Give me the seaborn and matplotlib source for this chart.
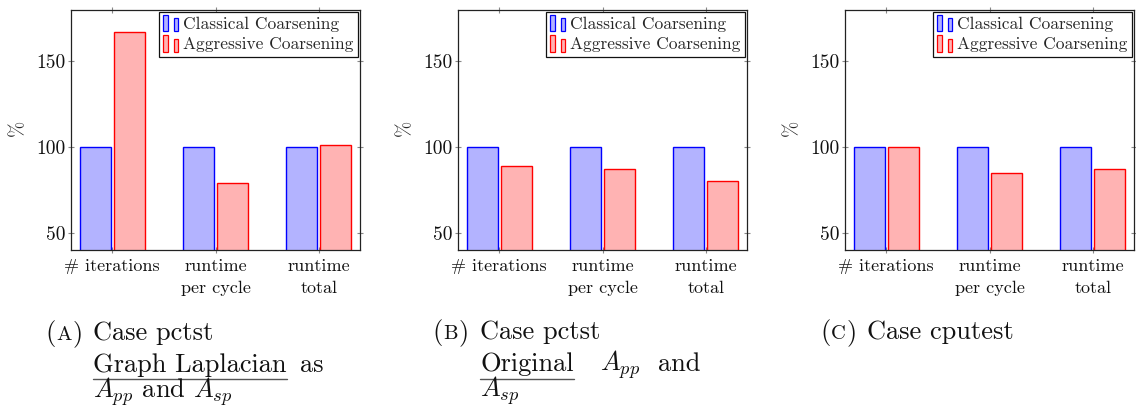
import matplotlib
matplotlib.use("Agg")
import matplotlib.pyplot as plt
from matplotlib.patches import Rectangle
from matplotlib.legend_handler import HandlerBase
from matplotlib.lines import Line2D
import pandas as pd
import seaborn as sns

# ---- data ---------------------------------------------------------------
metrics = ["# iterations", "runtime\nper cycle", "runtime\ntotal"]
methods = ["Classical Coarsening", "Aggressive Coarsening"]

classical_a = [100, 100, 100]
aggressive_a = [167, 79, 101]

classical_b = [100, 100, 100]
aggressive_b = [89, 87, 80]

classical_c = [100, 100, 100]
aggressive_c = [100, 85, 87]

y_ticks = [50, 100, 150]

# ---- style --------------------------------------------------------------
sns.set_theme(style="white")
plt.rcParams["font.family"] = ["cmr10", "DejaVu Serif"]
plt.rcParams["mathtext.fontset"] = "cm"
plt.rcParams["axes.formatter.use_mathtext"] = True
plt.rcParams["axes.unicode_minus"] = False

FILL = {"Classical Coarsening": (0.70, 0.70, 1.0),
        "Aggressive Coarsening": (1.0, 0.70, 0.70)}
EDGE = {"Classical Coarsening": (0.0, 0.0, 1.0),
        "Aggressive Coarsening": (1.0, 0.0, 0.0)}

W, H = 1136, 409
fig = plt.figure(figsize=(W / 100, H / 100), dpi=100)


def fx(x):
    return x / W


def fy(y):
    return 1 - y / H


class TwoBarHandler(HandlerBase):
    """Legend key made of two small bars, like a pgfplots ybar legend."""

    def create_artists(self, legend, orig_handle, xdescent, ydescent,
                       width, height, fontsize, trans):
        fc = orig_handle.get_facecolor()
        ec = orig_handle.get_edgecolor()
        x0 = -xdescent
        y0 = -ydescent - 0.2 * height
        bw = 0.3 * width
        h = 1.35 * height
        r1 = Rectangle((x0, y0), bw, h, facecolor=fc, edgecolor=ec,
                       linewidth=0.9, transform=trans)
        r2 = Rectangle((x0 + width - bw, y0), bw, 0.8 * h, facecolor=fc,
                       edgecolor=ec, linewidth=0.9, transform=trans)
        return [r1, r2]


def draw_panel(left_px, classical, aggressive):
    ax = fig.add_axes([fx(left_px), fy(250), 289 / W, 240 / H])
    df = pd.DataFrame({
        "metric": metrics * 2,
        "method": [methods[0]] * 3 + [methods[1]] * 3,
        "value": list(classical) + list(aggressive),
    })
    sns.barplot(data=df, x="metric", y="value", hue="method",
                order=metrics, hue_order=methods, palette=FILL,
                width=0.66, gap=0.09, linewidth=1.0, saturation=1,
                errorbar=None, ax=ax, legend=False)
    for container, m in zip(ax.containers, methods):
        for bar in container:
            bar.set_edgecolor(EDGE[m])
            bar.set_facecolor(FILL[m])
            bar.set_linewidth(1.0)

    ax.set_xlim(-0.4, 2.4)
    ax.set_ylim(40, 180)
    ax.set_yticks(y_ticks)
    ax.set_yticklabels([str(v) for v in y_ticks])
    ax.set_xlabel("")
    ax.set_ylabel("%", fontsize=14)
    ax.yaxis.set_label_coords(-0.152, 0.51)

    for s in ax.spines.values():
        s.set_visible(True)
        s.set_color("#222222")
        s.set_linewidth(0.9)
    ax.tick_params(axis="both", which="both", direction="inout", length=5,
                   width=0.8, color="#888888", labelsize=12.5,
                   labelcolor="#111111", top=True, right=True,
                   bottom=True, left=True)
    ax.tick_params(axis="y", pad=1.5, labelsize=14)
    ax.tick_params(axis="x", pad=4, labelsize=13)
    for lab in ax.get_xticklabels():
        lab.set_linespacing(1.55)

    handles = [Rectangle((0, 0), 1, 1, facecolor=FILL[m], edgecolor=EDGE[m])
               for m in methods]
    leg = ax.legend(handles, methods, loc="upper right",
                    bbox_to_anchor=(1.0, 1.0), borderaxespad=0.1,
                    fontsize=12.5, handler_map={Rectangle: TwoBarHandler()},
                    handlelength=0.85, handleheight=0.7, handletextpad=0.3,
                    labelspacing=0.32, borderpad=0.26, fancybox=False,
                    framealpha=1.0, edgecolor="#111111")
    leg.get_frame().set_linewidth(0.9)
    return ax


draw_panel(71, classical_a, aggressive_a)
draw_panel(458, classical_b, aggressive_b)
draw_panel(845, classical_c, aggressive_c)

# ---- sub-captions -------------------------------------------------------
renderer = fig.canvas.get_renderer()
CAP = 19
INK = "#111111"


def put(x, y, s, size=CAP, **kw):
    t = fig.text(fx(x), fy(y), s, fontsize=size, color=INK,
                 ha="left", va="baseline", **kw)
    return t


def label_tag(x, y, letter):
    t1 = put(x, y, "(")
    x1 = t1.get_window_extent(renderer).x1
    t2 = put(x1 + 1, y, letter, size=CAP * 0.78)
    x2 = t2.get_window_extent(renderer).x1
    put(x2 + 1, y, ")")


def underline(t, y):
    bb = t.get_window_extent(renderer)
    fig.add_artist(Line2D([bb.x0 / W, bb.x1 / W], [fy(y), fy(y)],
                          color="#555555", linewidth=1.0))


# (A)
label_tag(45, 340, "A")
put(93, 340, "Case pctst")
ta = put(93, 372, "Graph Laplacian")
underline(ta, 379)
put(300, 372, "as")
put(93, 398, r"$A_{pp}$ and $A_{sp}$")

# (B)
label_tag(432, 339, "B")
put(480, 339, "Case pctst")
tb = put(480, 371, "Original")
underline(tb, 379)
put(600, 371, r"$A_{pp}$")
put(658, 371, "and")
put(480, 397, r"$A_{sp}$")

# (C)
label_tag(820, 339, "C")
put(867, 339, "Case cputest")

fig.savefig("out.png", dpi=100)
